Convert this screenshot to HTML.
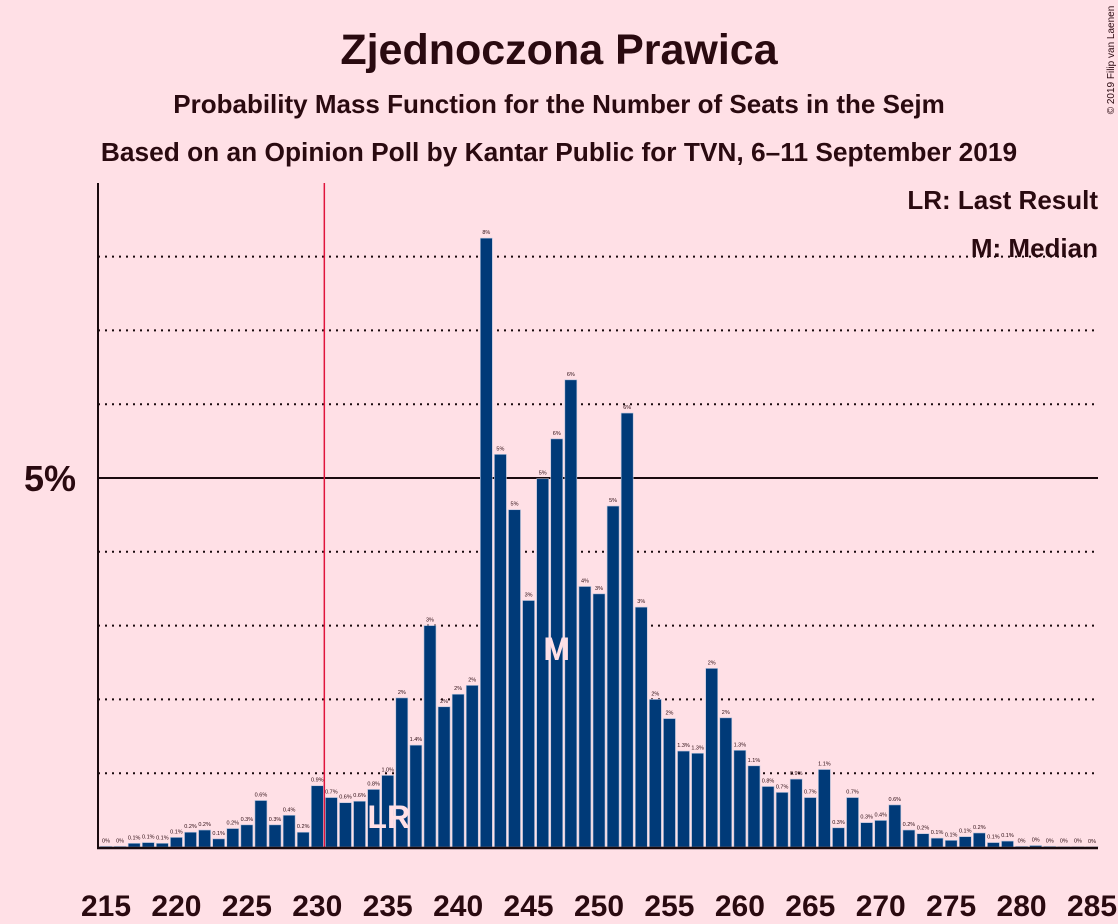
<!DOCTYPE html>
<html><head><meta charset="utf-8"><style>
body{margin:0;background:#FFE0E6;}
svg{display:block;font-family:"Liberation Sans",sans-serif;}
</style></head><body>
<svg id="chart" width="1118" height="924" viewBox="0 0 1118 924">
<rect width="1118" height="924" fill="#FFE0E6"/>
<text x="559" y="64" text-anchor="middle" font-size="43" font-weight="bold" fill="#2a0a10">Zjednoczona Prawica</text>
<text x="559" y="113" text-anchor="middle" font-size="26" font-weight="bold" fill="#2a0a10">Probability Mass Function for the Number of Seats in the Sejm</text>
<text x="559" y="161" text-anchor="middle" font-size="26.3" font-weight="bold" fill="#2a0a10">Based on an Opinion Poll by Kantar Public for TVN, 6–11 September 2019</text>
<text x="1098" y="209" text-anchor="end" font-size="26" font-weight="bold" fill="#2a0a10">LR: Last Result</text>
<text x="1098" y="257" text-anchor="end" font-size="26" font-weight="bold" fill="#2a0a10">M: Median</text>
<text transform="translate(1114,60) rotate(-90)" text-anchor="middle" font-size="10" fill="#2a0a10">© 2019 Filip van Laenen</text>
<g id="grid"></g>
<g id="bars"></g>
<g id="xticks"></g>
</svg>
<script>
const seats=[215,216,217,218,219,220,221,222,223,224,225,226,227,228,229,230,231,232,233,234,235,236,237,238,239,240,241,242,243,244,245,246,247,248,249,250,251,252,253,254,255,256,257,258,259,260,261,262,263,264,265,266,267,268,269,270,271,272,273,274,275,276,277,278,279,280,281,282,283,284,285];
const probs=[0.01,0.01,0.05,0.06,0.05,0.13,0.2,0.23,0.11,0.25,0.3,0.63,0.3,0.43,0.2,0.83,0.67,0.6,0.62,0.78,0.97,2.02,1.38,3.0,1.9,2.07,2.19,8.25,5.32,4.57,3.34,4.99,5.53,6.33,3.53,3.43,4.62,5.88,3.25,2.0,1.74,1.3,1.27,2.42,1.75,1.31,1.1,0.82,0.74,0.92,0.67,1.05,0.26,0.67,0.33,0.36,0.57,0.23,0.18,0.12,0.09,0.14,0.19,0.06,0.08,0.01,0.02,0.01,0.005,0.004,0.003];
const labels=["0%","0%","0.1%","0.1%","0.1%","0.1%","0.2%","0.2%","0.1%","0.2%","0.3%","0.6%","0.3%","0.4%","0.2%","0.9%","0.7%","0.6%","0.6%","0.8%","1.0%","2%","1.4%","3%","2%","2%","2%","8%","5%","5%","3%","5%","6%","6%","4%","3%","5%","6%","3%","2%","2%","1.3%","1.3%","2%","2%","1.3%","1.1%","0.8%","0.7%","0.9%","0.7%","1.1%","0.3%","0.7%","0.3%","0.4%","0.6%","0.2%","0.2%","0.1%","0.1%","0.1%","0.2%","0.1%","0.1%","0%","0%","0%","0%","0%","0%"];
const xTicks=[215,220,225,230,235,240,245,250,255,260,265,270,275,280,285];
const gridVals=[1,2,3,4,5,6,7,8];
const lastResult=235, median=247, majority=230.5;
const NS="http://www.w3.org/2000/svg";
const X=s=>106+(s-215)*14.086;
const Y=v=>847-v*73.8;
function mk(tag,attrs,parent){const e=document.createElementNS(NS,tag);for(const k in attrs)e.setAttribute(k,attrs[k]);parent.appendChild(e);return e;}
const grid=document.getElementById('grid'),bars=document.getElementById('bars'),xt=document.getElementById('xticks');
gridVals.forEach(v=>{
  const l=mk('line',{x1:98,x2:1098,y1:Y(v),y2:Y(v),stroke:'#1a0a0e','stroke-width':2,'stroke-dasharray':v===5?'none':'2 5'},grid);
  
  
});
const yl=mk('text',{x:50,y:Y(5)+13,'text-anchor':'middle','font-size':36,'font-weight':'bold',fill:'#2a0a10'},grid);
yl.textContent='5%';


seats.forEach((s,i)=>{
  const v=probs[i],x=X(s);
  const r=mk('rect',{x:x-6,y:Y(v),width:12,height:847-Y(v),fill:'#003A78',stroke:'#b8c4dc','stroke-width':0.6},bars);
  
  
  const t=mk('text',{x:x,y:Y(v)-4,'text-anchor':'middle','font-size':5.5,fill:'#2a0a10'},bars);
  t.textContent=labels[i];
  
  
});
const maj=mk('line',{x1:X(majority),x2:X(majority),y1:183,y2:847,stroke:'#E0143C','stroke-width':1.5},bars);


const lr=mk('text',{x:X(lastResult)+1,y:828,'text-anchor':'middle','font-size':32,'font-weight':'bold',fill:'#FFE0E6'},bars);
lr.textContent='LR';


const md=mk('text',{x:X(median),y:660,'text-anchor':'middle','font-size':32,'font-weight':'bold',fill:'#FFE0E6'},bars);
md.textContent='M';


const ya=mk('line',{x1:98,x2:98,y1:183,y2:848,stroke:'#1a0a0e','stroke-width':2},xt);


const xa=mk('line',{x1:97,x2:1098,y1:848,y2:848,stroke:'#1a0a0e','stroke-width':2.5},xt);


xTicks.forEach(s=>{
  const t=mk('text',{x:X(s),y:916,'text-anchor':'middle','font-size':30,'font-weight':'bold',fill:'#2a0a10'},xt);
  t.textContent=s;
  
  
});
</script>
</body></html>
